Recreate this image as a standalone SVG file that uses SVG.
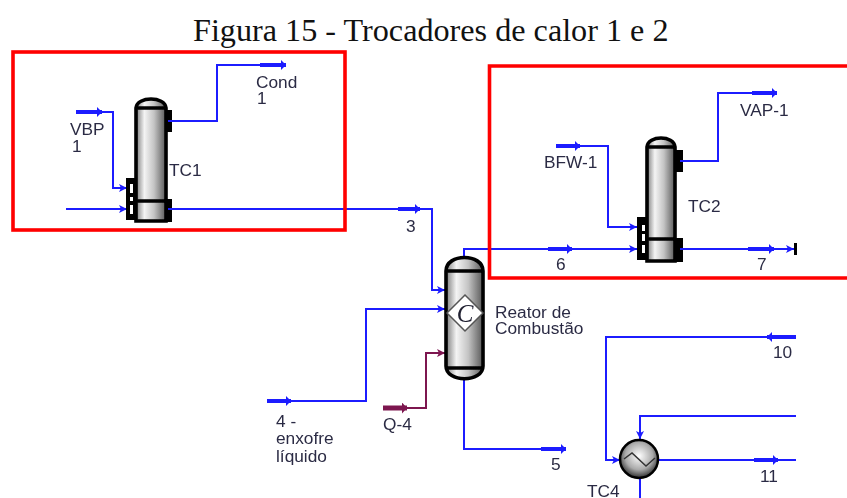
<svg xmlns="http://www.w3.org/2000/svg" width="847" height="498" viewBox="0 0 847 498">
<style>
.t{font-family:"Liberation Serif",serif;font-size:32.2px;fill:#111}
.l{font-family:"Liberation Sans",Arial,sans-serif;font-size:17.3px;fill:#2c2c44}
.s{fill:none;stroke:#1a1aff;stroke-width:2}
.h{fill:none;stroke:#7d1550;stroke-width:2}
.th{fill:none;stroke:#1a1aff;stroke-width:4}
.thq{fill:none;stroke:#7d1550;stroke-width:5}
.box{fill:none;stroke:#f00;stroke-width:3.6}
.v{fill:url(#g);stroke:#000;stroke-width:3.6}
.c{stroke:#000;stroke-width:3.6;fill:none}
.n{fill:#000}
</style>
<defs>
<filter id="soft" x="-5%" y="-5%" width="110%" height="110%"><feGaussianBlur stdDeviation="0.45"/></filter>
<linearGradient id="g" x1="0" x2="1" y1="0" y2="0">
<stop offset="0" stop-color="#7c7c7c"/><stop offset=".28" stop-color="#f4f4f4"/><stop offset=".6" stop-color="#c4c4c4"/><stop offset="1" stop-color="#585858"/>
</linearGradient>
<radialGradient id="r" cx=".5" cy=".42" r=".6">
<stop offset="0" stop-color="#fff"/><stop offset=".6" stop-color="#aaa"/><stop offset="1" stop-color="#222"/>
</radialGradient>
<marker id="a" markerWidth="9" markerHeight="8" refX="8" refY="4" orient="auto" markerUnits="userSpaceOnUse"><path d="M0 0L8 4L0 8L2 4Z" fill="#1a1aff"/></marker>
<marker id="aq" markerWidth="9" markerHeight="8" refX="8" refY="4" orient="auto" markerUnits="userSpaceOnUse"><path d="M0 0L8 4L0 8L2 4Z" fill="#7d1550"/></marker>
<marker id="b" markerWidth="6" markerHeight="10" refX="5" refY="5" orient="auto" markerUnits="userSpaceOnUse"><path d="M0 0L5 5L0 10Z" fill="#1a1aff"/></marker>
<marker id="bq" markerWidth="6" markerHeight="11" refX="5" refY="5.5" orient="auto" markerUnits="userSpaceOnUse"><path d="M0 0L5 5.500L0 11Z" fill="#7d1550"/></marker>
</defs>
<rect width="847" height="498" fill="#fff"/>
<text class="t" x="193" y="41">Figura 15 - Trocadores de calor 1 e 2</text>
<g filter="url(#soft)">
<g id="connectors">
<path class="s" d="M100 112H113V188H127" marker-end="url(#a)"/>
<path class="th" d="M76 112H102" marker-end="url(#b)"/>
<path class="s" d="M66 209H127" marker-end="url(#a)"/>
<path class="s" d="M168 209H432V290H445" marker-end="url(#a)"/>
<path class="th" d="M398 209H420" marker-end="url(#b)"/>
<path class="s" d="M168 121H217V65H270"/>
<path class="th" d="M260 65H286" marker-end="url(#b)"/>
<path class="s" d="M680 161H718V93H760"/>
<path class="th" d="M752 93H777" marker-end="url(#b)"/>
<path class="s" d="M570 146H608V227H637" marker-end="url(#a)"/>
<path class="th" d="M556 146H580" marker-end="url(#b)"/>
<path class="s" d="M464 257V249H637" marker-end="url(#a)"/>
<path class="th" d="M548 249H572" marker-end="url(#b)"/>
<path class="s" d="M680 249H794" marker-end="url(#a)"/>
<path class="th" d="M748 249H774" marker-end="url(#b)"/>
<path class="s" d="M285 401H366V309H445" marker-end="url(#a)"/>
<path class="th" d="M267 401H291" marker-end="url(#b)"/>
<path class="h" d="M400 408H426V353H445" marker-end="url(#aq)"/>
<path class="thq" d="M383 408H407" marker-end="url(#bq)"/>
<path class="s" d="M464 379V449H550"/>
<path class="th" d="M541 449H566" marker-end="url(#b)"/>
<path class="s" d="M780 337H606V460H620" marker-end="url(#a)"/>
<path class="th" d="M796 337H767" marker-end="url(#b)"/>
<path class="s" d="M796 416H640V439" marker-end="url(#a)"/>
<path class="s" d="M659 460H796"/>
<path class="th" d="M754 460H778" marker-end="url(#b)"/>
<path class="s" d="M640 479V498"/>
</g>
<g id="TC1">
<rect class="n" x="126" y="178" width="10" height="42"/>
<rect x="130" y="184" width="3" height="9" fill="#fff"/><rect x="130" y="197" width="3" height="4" fill="#fff"/><rect x="130" y="205" width="3" height="9" fill="#fff"/>
<rect class="n" x="166" y="110" width="6" height="22"/>
<rect class="n" x="166" y="199" width="6" height="23"/>
<path class="v" d="M136 108C137 96 165 96 166 108V221H136Z"/>
<path class="c" d="M136 108H166M136 201H166"/>
<path d="M168 121H172M168 209H172" class="s"/>
<text class="l" x="169" y="176">TC1</text>
</g>
<g id="TC2">
<rect class="n" x="637" y="217" width="10" height="43"/>
<rect x="642" y="225" width="3" height="6" fill="#fff"/><rect x="642" y="234" width="3" height="7" fill="#fff"/><rect x="642" y="245" width="3" height="8" fill="#fff"/>
<rect class="n" x="675" y="150" width="8" height="22"/>
<rect class="n" x="675" y="238" width="8" height="24"/>
<path class="v" d="M647 147C648 135 674 135 675 147V261H647Z"/>
<path class="c" d="M647 147H675M647 239H675"/>
<path d="M680 161H684M680 249H684" class="s"/>
<text class="l" x="688" y="212">TC2</text>
</g>
<g id="reactor">
<path class="v" d="M446 271C446 253 483 253 483 271V366C483 383 446 383 446 366Z"/>
<path class="c" d="M446 271H483M446 368H483"/>
<path d="M465 295L483 313L465 331L447 313Z" fill="#fff" stroke="#555" stroke-width="1.500"/>
<text x="465" y="322" text-anchor="middle" style="font-family:'Liberation Serif',serif;font-style:italic;font-size:25px;fill:#223">C</text>
<text class="l" x="495" y="318">Reator de</text>
<text class="l" x="495" y="334">Combustão</text>
</g>
<g id="TC4">
<circle cx="639" cy="459" r="19" fill="url(#r)" stroke="#000" stroke-width="2.500"/>
<path d="M624 459L632 453L646 466L655 458" fill="none" stroke="#333" stroke-width="1.500"/>
<text class="l" x="587" y="497">TC4</text>
</g>
<g id="labels">
<text class="l" x="70" y="135">VBP</text><text class="l" x="72" y="152">1</text>
<text class="l" x="256" y="88">Cond</text><text class="l" x="257" y="104">1</text>
<text class="l" x="406" y="232">3</text>
<text class="l" x="740" y="116">VAP-1</text>
<text class="l" x="544" y="168">BFW-1</text>
<text class="l" x="556" y="270">6</text>
<text class="l" x="757" y="270">7</text>
<text class="l" x="276" y="427">4 -</text>
<text class="l" x="276" y="444">enxofre</text>
<text class="l" x="276" y="462">líquido</text>
<text class="l" x="383" y="430">Q-4</text>
<text class="l" x="551" y="470">5</text>
<text class="l" x="773" y="358">10</text>
<text class="l" x="760" y="482">11</text>
</g>
<rect x="794" y="243" width="3" height="12" fill="#000"/>
</g>
<g id="boxes">
<rect class="box" x="13" y="52" width="332" height="178"/>
<path class="box" d="M847 66H489.500V278H847"/>
</g>
</svg>
